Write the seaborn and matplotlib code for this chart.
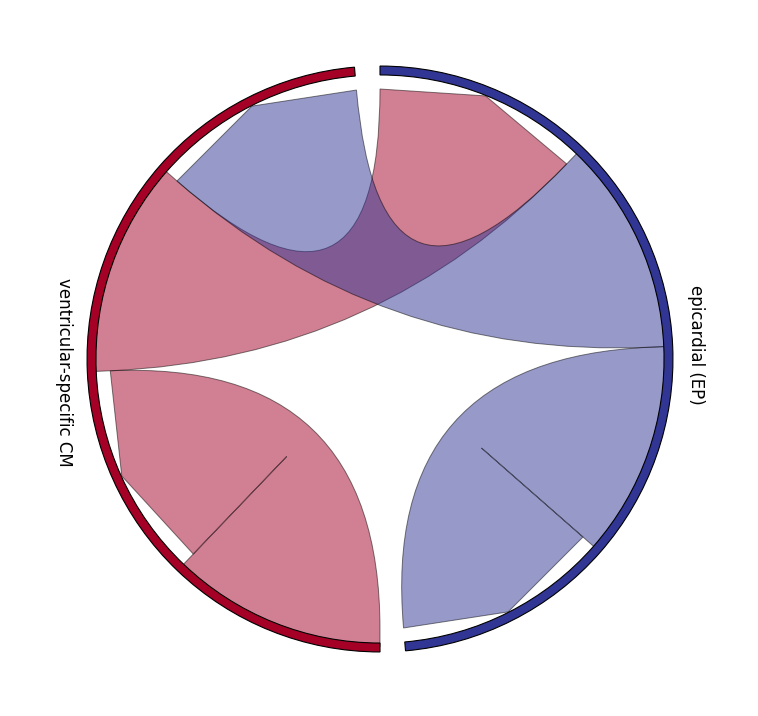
import numpy as np
import matplotlib
matplotlib.use('Agg')
import matplotlib.pyplot as plt
import seaborn as sns
from matplotlib.path import Path
from matplotlib.patches import PathPatch, Wedge

groups = ['ventricular-specific CM', 'epicardial (EP)']
# rows = source group, columns = target group
flows = np.array([[1.0, 1.0],
                  [1.0, 1.0]])

# order of chord ends around each group arc: (source, target, end)
end_order = [
    [(1, 0, 'tgt'), (0, 1, 'src'), (0, 0, 'tgt'), (0, 0, 'src')],
    [(1, 1, 'tgt'), (1, 1, 'src'), (1, 0, 'src'), (0, 1, 'tgt')],
]

sns.set_theme(style='white')
cmap = sns.color_palette('RdYlBu', as_cmap=True)
colors = [cmap(0.0), cmap(1.0)]

start_deg = [95.0, 275.0]
span = 175.0
r_ring_out, ring_w = 1.085, 0.033
r_hidden = 1.065
r_vertex = 1.05


def pt(r, deg):
    return (r * np.cos(np.radians(deg)), r * np.sin(np.radians(deg)))


ends = {}
for g in range(2):
    total = sum(flows[i, j] for i, j, _ in end_order[g])
    a = start_deg[g]
    for i, j, k in end_order[g]:
        w = flows[i, j] / total * span
        ends[(i, j, k)] = (a, a + w)
        a += w


def ribbon(vis, hid):
    s1, e1 = vis
    s2, e2 = hid
    verts = [pt(1, s1), pt(r_vertex, (s1 + e1) / 2), pt(1, e1),
             (0, 0), pt(1, s2), pt(r_hidden, s2)]
    codes = [Path.MOVETO, Path.LINETO, Path.LINETO,
             Path.CURVE3, Path.CURVE3, Path.LINETO]
    for t in np.linspace(s2, e2, 40):
        verts.append(pt(r_hidden, t))
        codes.append(Path.LINETO)
    verts += [pt(1, e2), (0, 0), pt(1, s1), pt(1, s1)]
    codes += [Path.LINETO, Path.CURVE3, Path.CURVE3, Path.CLOSEPOLY]
    return Path(verts, codes)


fig = plt.figure(figsize=(7.58, 7.16), dpi=100)
ax = fig.add_axes([0, 0, 1, 1])
S = 270.0
ax.set_xlim(-380 / S, (758 - 380) / S)
ax.set_ylim(-(716 - 359) / S, 359 / S)
ax.axis('off')

# self chords, then red -> blue, then blue -> red on top
for i, j in [(0, 0), (1, 1), (0, 1), (1, 0)]:
    p = ribbon(ends[(i, j, 'tgt')], ends[(i, j, 'src')])
    ax.add_patch(PathPatch(p, facecolor=colors[i], alpha=0.5,
                           edgecolor='black', lw=0.7, zorder=2))

for g in range(2):
    ax.add_patch(Wedge((0, 0), r_ring_out, start_deg[g], start_deg[g] + span,
                       width=ring_w, facecolor=colors[g], edgecolor='black',
                       lw=0.8, zorder=3))
    mid = start_deg[g] + span / 2
    x, y = pt(1.172, mid)
    ax.text(x, y, groups[g], rotation=-90, ha='center', va='center',
            fontsize=12, color='black')

fig.savefig('out.png', dpi=100)
